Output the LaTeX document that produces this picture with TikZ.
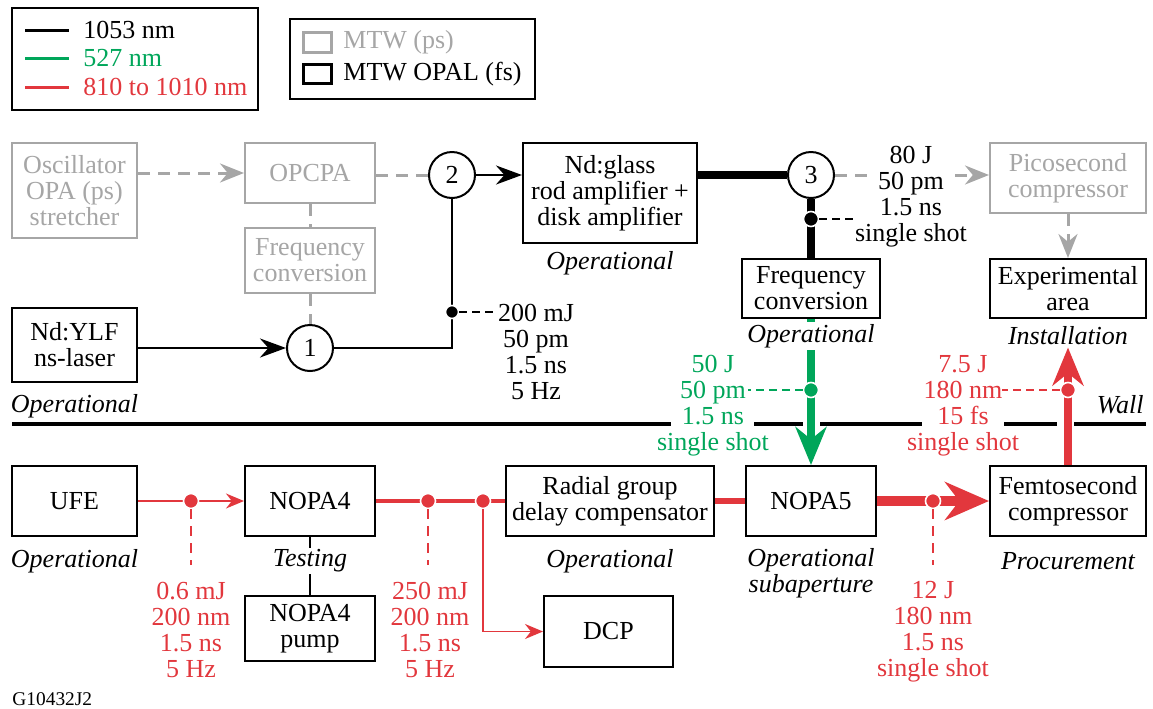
\documentclass[tikz,border=0pt]{standalone}
\usepackage{fontspec}
\setmainfont{Liberation Serif}
\usetikzlibrary{arrows.meta}
\definecolor{lleGreen}{RGB}{0,166,90}
\definecolor{lleRed}{RGB}{226,55,61}
\definecolor{lleGray}{RGB}{166,166,166}

\begin{document}
\begin{tikzpicture}[x=0.5pt,y=-0.5pt,
  font=\fontsize{13pt}{13pt}\selectfont,
  box/.style={draw,line width=1pt,fill=white,align=center,inner sep=0pt},
  gbox/.style={box,draw=lleGray,text=lleGray},
  ring/.style={circle,draw,line width=1pt,fill=white,inner sep=0pt,minimum size=23pt},
  stat/.style={font=\fontsize{13pt}{13pt}\selectfont\itshape,fill=white,inner sep=1pt},
  data/.style={align=center,inner sep=1pt},
  dot/.style={circle,fill=#1,draw=white,line width=0.8pt,inner sep=0pt,minimum size=7.5pt},
  blk/.style={line width=1.25pt},
  blkarr/.style={blk,-{Stealth[length=13pt,width=9.5pt]}},
  blkfat/.style={line width=4pt},
  gdash/.style={lleGray,line width=1.5pt,dash pattern=on 6pt off 4pt},
  gdarr/.style={gdash,-{Stealth[length=12pt,width=9.5pt]}},
  rthin/.style={lleRed,line width=0.8pt,-{Stealth[length=9pt,width=7.5pt]}},
  grnarr/.style={lleGreen,line width=4pt,-{Stealth[length=19pt,width=15.5pt]}},
  rfat/.style={lleRed,line width=4pt,-{Stealth[length=19pt,width=15.5pt]}},
  leader/.style={line width=0.75pt,dash pattern=on 4pt off 2.5pt}]
\useasboundingbox (0,0) rectangle (1153,708);

% legend
\draw[line width=0.75pt] (12,8) rectangle (258,110);
\foreach \yy/\cc/\lab [count=\i] in {30/black/1053 nm,58/lleGreen/527 nm,87/lleRed/810 to 1010 nm}
{
    \draw[\cc,line width=1.5pt] (25,\yy) -- (69,\yy);
    \node[anchor=west,inner sep=0pt,text=\cc] (leg\i) at (83,\yy) {\lab};
};
\draw[line width=0.75pt] (290,19) rectangle (535,99);
\draw[lleGray,line width=1.5pt] (303,32) rectangle (331,52);
\draw[line width=1.5pt] (303,64) rectangle (331,83);
\node[anchor=west,inner sep=0pt,text=lleGray] (legps) at (343,42) {MTW (ps)};
\node[anchor=west,inner sep=0pt] (legfs) at (343,74) {MTW OPAL (fs)};

% upper part
\node[gbox,minimum width=62.5pt,minimum height=47.5pt] (osc) at (74.5,190.5) {Oscillator\\OPA (ps)\\stretcher};
\node[gbox,minimum width=65pt,minimum height=30pt] (opcpa) at (310,173) {OPCPA};
\node[gbox,minimum width=65pt,minimum height=32.5pt] (fcg) at (310,260.5) {Frequency\\conversion};
\node[ring] (c2) at (452,175) {2};
\node[box,minimum width=87pt,minimum height=50pt] (glass) at (610,193) {Nd:glass\\rod amplifier +\\disk amplifier};
\node[ring] (c3) at (811,175) {3};
\node[gbox,minimum width=78pt,minimum height=35pt] (pico) at (1068,178) {Picosecond\\compressor};
\node[box,minimum width=69pt,minimum height=29.5pt] (fc) at (811,288.5) {Frequency\\conversion};
\node[box,minimum width=78pt,minimum height=29.5pt] (exp) at (1068,288.5) {Experimental\\area};
\node[box,minimum width=62.5pt,minimum height=37pt] (ylf) at (74.5,345) {Nd:YLF\\ns-laser};
\node[ring] (c1) at (310,348) {1};

% lower part
\node[box,minimum width=62.5pt,minimum height=35pt] (ufe) at (74.5,501) {UFE};
\node[box,minimum width=65pt,minimum height=35pt] (nopa4) at (310,501) {NOPA4};
\node[box,minimum width=65pt,minimum height=32.5pt] (pump) at (310,628.5) {NOPA4\\pump};
\node[box,minimum width=104pt,minimum height=35pt] (rgdc) at (610,501) {Radial group\\delay compensator};
\node[box,minimum width=65pt,minimum height=35pt] (nopa5) at (811,501) {NOPA5};
\node[box,minimum width=78pt,minimum height=35pt] (femto) at (1068,501) {Femtosecond\\compressor};
\node[box,minimum width=64.5pt,minimum height=35.5pt] (dcp) at (608.5,631.5) {DCP};

% wall
\foreach \a/\b in {12/671,754/803,820/922,1004/1057,1074/1146}
    \draw[line width=1.6pt] (\a,424) -- (\b,424);

% beams
\draw[gdarr] (osc.east |- opcpa) -- (opcpa);
\draw[gdash] (opcpa) -- (fcg);
\draw[gdash] (fcg) -- (c1);
\draw[gdash] (opcpa.east |- c2) -- (c2);
\draw[blkarr] (ylf.east |- c1) -- (c1);
\draw[blk] (c1) -- (c1 -| c2) -- (c2);
\draw[blkarr] (c2) -- (c2 -| glass.west);
\draw[blkfat] (glass.east |- c3) -- (c3);
\draw[gdarr] (c3) -- (c3 -| pico.west);
\draw[blkfat] (c3) -- (fc);
\draw[gdarr] (pico) -- (exp);
\draw[grnarr] (fc) -- (nopa5);
\draw[rthin] (ufe) -- (nopa4);
\draw[line width=1pt] (nopa4) -- (pump);
\draw[lleRed,line width=2pt] (nopa4) -- (rgdc);
\draw[lleRed,line width=3pt] (rgdc) -- (nopa5);
\draw[lleRed,line width=5pt,-{Stealth[length=22pt,width=19pt]}] (nopa5) -- (femto);

% status
\node[stat] (s_ylf) at (74.5,406) {Operational};
\node[stat] (s_glass) at (610,263) {Operational};
\node[stat] (s_fc) at (811,336) {Operational};
\node[stat] (s_exp) at (1068,336) {Installation};
\node[stat] (s_ufe) at (74.5,561) {Operational};
\node[stat] (s_nopa4) at (310,561) {Testing};
\node[stat] (s_rgdc) at (610,561) {Operational};
\node[stat,align=center] (s_nopa5) at (811,573) {Operational\\subaperture};
\node[stat] (s_femto) at (1068,561) {Procurement};
\node[stat,anchor=east] (s_wall) at (1146,405) {Wall};
\draw[rfat] (femto) -- (s_exp);

% taps
\node[dot=black,minimum size=6.5pt] (d200) at (452,312) {};
\node[dot=black] (d80) at (811,219) {};
\node[dot=lleGreen] (dg) at (811,390) {};
\node[dot=lleRed] (dr) at (1068,390) {};
\node[dot=lleRed] (d06) at (191,501) {};
\node[dot=lleRed] (d250) at (428,501) {};
\node[dot=lleRed] (ddcp) at (483,501) {};
\node[dot=lleRed] (d12) at (933,501) {};
\draw[rthin] (ddcp) |- (dcp);

% beam data
\fill[white] (868,166) rectangle (948,186);
\node[data] (l200) at (536,352) {200 mJ\\50 pm\\1.5 ns\\5 Hz};
\node[data] (l80) at (911,197) {80 J\\50 pm\\1.5 ns\\single shot};
\node[data,text=lleGreen] (lg) at (713,406) {50 J\\50 pm\\1.5 ns\\single shot};
\node[data,text=lleRed] (l75) at (963,406) {7.5 J\\180 nm\\15 fs\\single shot};
\node[data,text=lleRed] (l06) at (191,630) {0.6 mJ\\200 nm\\1.5 ns\\5 Hz};
\node[data,text=lleRed] (l250) at (430,630) {250 mJ\\200 nm\\1.5 ns\\5 Hz};
\node[data,text=lleRed] (l12) at (933,632) {12 J\\180 nm\\1.5 ns\\single shot};
\coordinate (eg) at (748,390);
\coordinate (er) at (1002,390);
\coordinate (e06) at (191,565);
\coordinate (e250) at (428,565);
\coordinate (e12) at (933,565);
\draw[leader] (d200) -- (l200.west |- d200);
\draw[leader] (d80) -- (l80.west |- d80);
\draw[leader,lleGreen] (dg) -- (eg);
\draw[leader,lleRed] (dr) -- (er);
\foreach \d/\e in {d06/e06,d250/e250,d12/e12}
    \draw[lleRed,line width=0.75pt,dash pattern=on 5pt off 3.5pt] (\d) -- (\e);

\node[anchor=west,font=\fontsize{9.7pt}{11pt}\selectfont,inner sep=0pt] (gnum) at (12,699) {G10432J2};
\end{tikzpicture}
\end{document}
